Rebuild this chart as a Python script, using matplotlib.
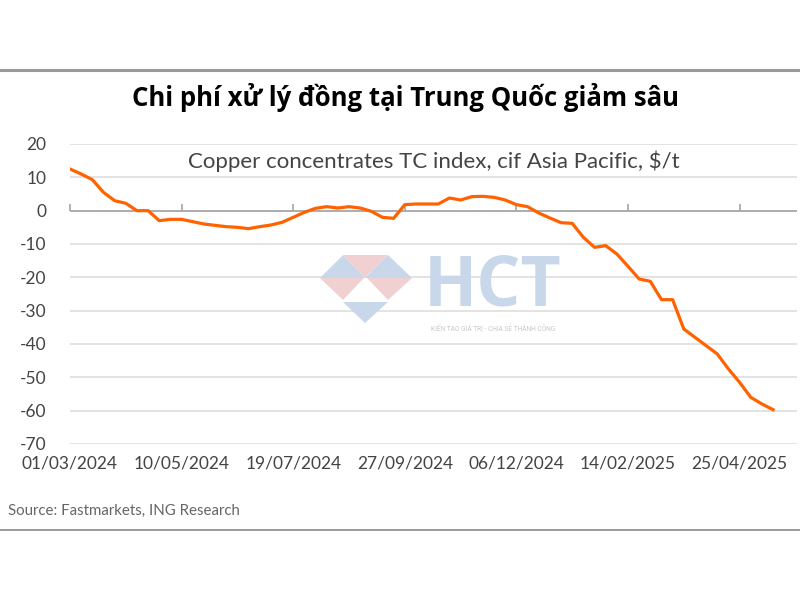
import numpy as np
import pandas as pd
import matplotlib
matplotlib.use('Agg')
import matplotlib.pyplot as plt
from matplotlib.patches import Polygon

# weekly copper concentrates TC index, $/t
start_date = '2024-03-01'
tc_values = [12.5, 11.0, 9.3, 5.5, 3.0, 2.2, 0.0, 0.0, -3.0, -2.6,
             -2.6, -3.3, -4.0, -4.4, -4.8, -5.0, -5.4, -4.8, -4.3, -3.5,
             -2.0, -0.5, 0.7, 1.2, 0.8, 1.2, 0.8, -0.2, -2.0, -2.3,
             1.8, 2.0, 2.0, 2.0, 3.8, 3.2, 4.2, 4.3, 4.0, 3.2,
             1.8, 1.2, -0.7, -2.2, -3.6, -3.8, -8.0, -11.0, -10.5, -13.0,
             -16.7, -20.5, -21.2, -26.7, -26.7, -35.5, -38.0, -40.5, -43.0, -47.5,
             -51.5, -56.0, -58.0, -59.7]
tick_dates = ['2024-03-01', '2024-05-10', '2024-07-19', '2024-09-27',
              '2024-12-06', '2025-02-14', '2025-04-25']
y_ticks = [20, 10, 0, -10, -20, -30, -40, -50, -60, -70]

title = 'Chi phí xử lý đồng tại Trung Quốc giảm sâu'
subtitle = 'Copper concentrates TC index, cif Asia Pacific, $/t'
source = 'Source: Fastmarkets, ING Research'

dates = pd.date_range(start_date, periods=len(tc_values), freq='7D')
ticks = pd.to_datetime(tick_dates)

W, H = 800, 600
fig = plt.figure(figsize=(8, 6), dpi=100)
fig.patch.set_facecolor('white')


def fx(px):
    return px / W


def fy(py):
    return 1 - py / H


# frame lines top and bottom
fig.add_artist(plt.Line2D([0, 1], [fy(70), fy(70)], color='#9a9a9a', lw=2.2))
fig.add_artist(plt.Line2D([0, 1], [fy(530), fy(530)], color='#8a8a8a', lw=1.2))

fig.text(fx(405), fy(97), title, ha='center', va='center', fontsize=18.5,
         fontweight='bold', family=['Open Sans', 'DejaVu Sans'], color='black')

# watermark logo
blue = '#c8d8ea'
pink = '#f0d0d0'
tris = [
    ([(343, 255), (320, 278), (365, 278)], blue),
    ([(343, 255), (388, 255), (365, 278)], pink),
    ([(388, 255), (365, 278), (412, 278)], blue),
    ([(320, 278), (364, 278), (343, 300)], pink),
    ([(367, 278), (412, 278), (388, 300)], pink),
    ([(343, 302), (388, 302), (365, 323)], blue),
]
for pts, c in tris:
    fig.add_artist(Polygon([(fx(x), fy(y)) for x, y in pts], closed=True,
                           facecolor=c, edgecolor='none', zorder=0.5,
                           transform=fig.transFigure))
fig.text(fx(493), fy(306), 'HCT', ha='center', va='baseline', fontsize=50,
         fontweight='bold', family='Open Sans', color=blue, zorder=0.5)
fig.text(fx(493), fy(329), 'KIẾN TẠO GIÁ TRỊ - CHIA SẺ THÀNH CÔNG', ha='center',
         va='center', fontsize=4.8, family='Roboto', color='#c8c8c8', zorder=0.5)

ax = fig.add_axes([fx(70), fy(444), fx(797) - fx(70), fy(144) - fy(444)])
ax.set_facecolor('none')
ax.set_ylim(-70, 20)
ax.set_xlim(pd.Timestamp('2024-03-01'), pd.Timestamp('2025-05-31'))

for v in y_ticks:
    if v != 0:
        ax.axhline(v, color='#e0e0e0', lw=1.3, zorder=1)
ax.axhline(0, color='#a6a6a6', lw=1.3, zorder=2)

ax.plot(dates, tc_values, color='#ff6200', lw=2.3, zorder=3,
        solid_joinstyle='round')

for s in ax.spines.values():
    s.set_visible(False)

ax.set_yticks(y_ticks)
ax.set_yticklabels([str(v) for v in y_ticks])
ax.set_xticks(ticks)
ax.set_xticklabels([d.strftime('%d/%m/%Y') for d in ticks])
ax.tick_params(axis='both', length=0, labelsize=12.5, labelcolor='#444444')
ax.tick_params(axis='y', pad=17)
ax.tick_params(axis='x', pad=8)
for lab in ax.get_xticklabels() + ax.get_yticklabels():
    lab.set_family('Lato')

# tick marks hanging from the zero line
sec = ax.secondary_xaxis(70 / 90)
sec.set_xticks(ticks)
sec.set_xticklabels([])
sec.tick_params(axis='x', direction='out', length=5, width=1.2, color='#a6a6a6')
for s in sec.spines.values():
    s.set_visible(False)

ax.text(0.5, 0.98, subtitle, transform=ax.transAxes, ha='center', va='top',
        fontsize=16, family='Lato', color='#444444')

fig.text(fx(8), fy(511), source, ha='left', va='center', fontsize=10.8,
         family='Lato', color='#666666')

fig.savefig('out.png', dpi=100, facecolor='white')
